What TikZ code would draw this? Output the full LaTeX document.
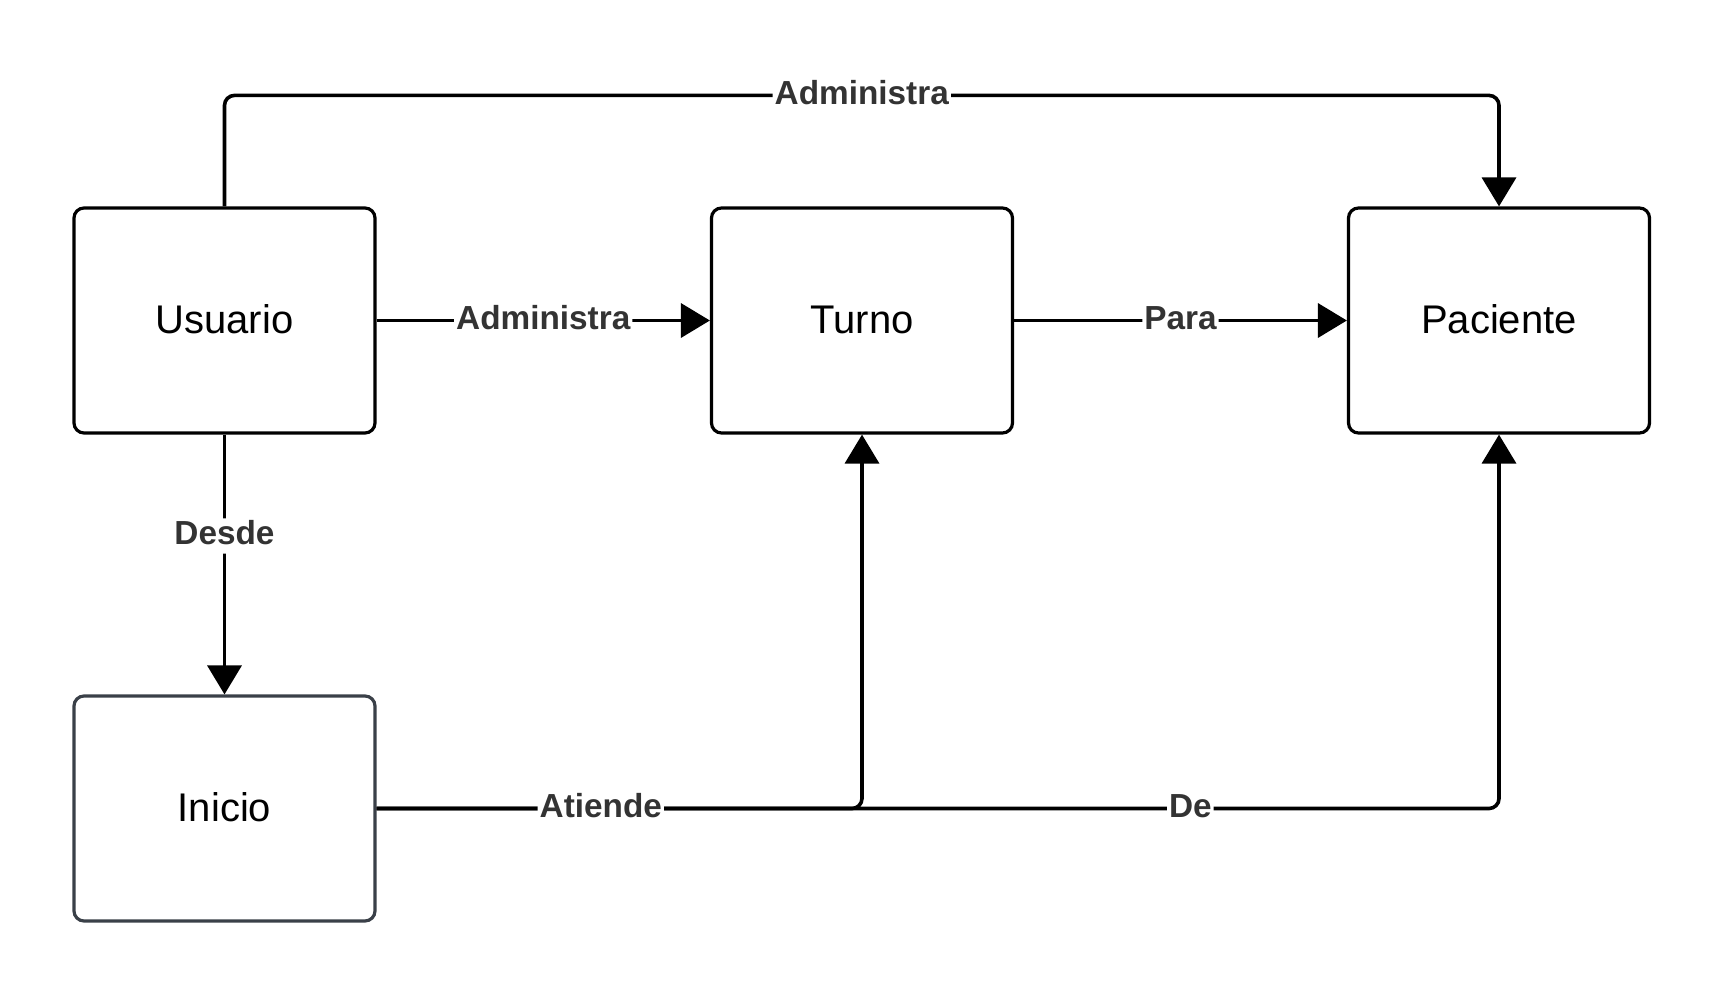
\documentclass[tikz,border=0pt]{standalone}
\usepackage{fontspec}
\setmainfont{Liberation Sans}
\usetikzlibrary{arrows.meta}

\definecolor{etiquetagris}{RGB}{51,51,51}
\definecolor{iniciogris}{RGB}{58,64,72}

\tikzset{every picture/.style={line width=2.4pt}}
\tikzset{
  entidad/.style={draw=black, fill=white, rounded corners=7.5pt, minimum width=225.75pt, minimum height=168.75pt, font=\fontsize{30}{36}\selectfont, text height=22pt, text depth=3pt},
  relacion/.style={draw=black, line width=2.7pt, rounded corners=7.5pt, -{Triangle[length=21.75pt,width=25.5pt]}},
  etiqueta/.style={fill=white, text=etiquetagris, font=\bfseries\fontsize{25}{30}\selectfont, inner xsep=1.5pt, inner ysep=1pt, text height=18.75pt, text depth=5.75pt}
}

\begin{document}
\begin{tikzpicture}[x=0.75pt,y=0.75pt,yscale=-1,xscale=1]
\useasboundingbox (0,0) rectangle (1723,996);

%Shape: Rectangle
\node [entidad] (usuario) at (224.5,320.5) {Usuario};
%Shape: Rectangle
\node [entidad] (turno) at (862,320.5) {Turno};
%Shape: Rectangle
\node [entidad] (paciente) at (1499,320.5) {Paciente};
%Shape: Rectangle
\node [entidad, draw=iniciogris] (inicio) at (224.5,808.5) {Inicio};

%Straight Lines
\draw [relacion] (usuario.north) -- ++(0,-111) -| node [etiqueta, pos=0.25] {Administra} (paciente.north);
%Straight Lines
\draw [relacion] (usuario) -- node [etiqueta] {Administra} (turno);
%Straight Lines
\draw [relacion] (turno) -- node [etiqueta] {Para} (paciente);
%Straight Lines
\draw [relacion] (usuario) -- node [etiqueta, pos=0.39] {Desde} (inicio);
%Straight Lines
\draw [relacion] (inicio) -| node [etiqueta, pos=0.3625] {De} (paciente);
%Straight Lines
\draw [relacion] (inicio) -| node [etiqueta, pos=0.231] {Atiende} (turno);

\end{tikzpicture}
\end{document}
